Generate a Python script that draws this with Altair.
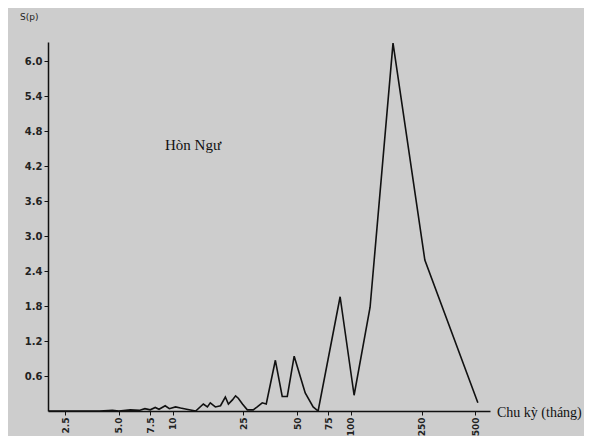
import altair as alt
import pandas as pd

# Period (months) and spectral density S(p)
periods = [2.0, 3.9, 4.6, 5.0, 5.8, 6.5, 7.0, 7.5, 8.0, 8.4, 9.1, 9.6, 10.4, 11.1, 12.0,
           13.5, 14.9, 15.7, 16.3, 17.4, 18.6, 19.8, 20.6, 21.7, 22.6, 23.4, 24.7,
           26.3, 28.4, 29.9, 31.9, 33.6, 37.8, 41.3, 44.1, 48.2, 55.6, 61.6, 65.7,
           87.3, 104.6, 128.6, 173.0, 261.0, 518.0]
values = [0.0, 0.0, 0.01, 0.0, 0.02, 0.01, 0.04, 0.02, 0.06, 0.03, 0.09, 0.04, 0.07, 0.05, 0.03,
          0.0, 0.12, 0.07, 0.14, 0.07, 0.09, 0.24, 0.12, 0.19, 0.26, 0.22, 0.12,
          0.02, 0.02, 0.07, 0.14, 0.12, 0.87, 0.25, 0.25, 0.94, 0.31, 0.07, 0.0,
          1.96, 0.27, 1.78, 6.31, 2.59, 0.14]
x_ticks = [2.5, 5, 7.5, 10, 25, 50, 75, 100, 250, 500]
y_ticks = [0.6, 1.2, 1.8, 2.4, 3.0, 3.6, 4.2, 4.8, 5.4, 6.0]

df = pd.DataFrame({"period": periods, "s": values})

line = alt.Chart(df).mark_line(color="#111111", strokeWidth=1.6, clip=True).encode(
    x=alt.X("period:Q",
            scale=alt.Scale(type="log", domain=[2, 606], nice=False),
            axis=alt.Axis(values=x_ticks, title=None, labelAngle=270,
                          labelExpr="datum.value < 10 ? format(datum.value, '.1f') : format(datum.value, 'd')",
                          labelFont="DejaVu Sans", labelFontSize=9, labelFontWeight="bold",
                          labelColor="#222222",
                          tickSize=4, tickColor="#111111", domainColor="#111111",
                          domainWidth=1.5, grid=False, labelPadding=2)),
    y=alt.Y("s:Q",
            scale=alt.Scale(domain=[0, 6.33], nice=False, zero=True),
            axis=alt.Axis(values=y_ticks, title=None, format=".1f",
                          labelFont="DejaVu Sans", labelFontSize=10, labelFontWeight="bold",
                          labelColor="#222222",
                          tickSize=4, tickColor="#111111", domainColor="#111111",
                          domainWidth=1.5, grid=False, labelPadding=2)),
)

title_txt = alt.Chart(pd.DataFrame({"t": ["Hòn Ngư"]})).mark_text(
    font="Liberation Serif", fontSize=15, align="left", baseline="middle", color="#111111"
).encode(x=alt.value(117), y=alt.value(103), text="t:N")

sp_txt = alt.Chart(pd.DataFrame({"t": ["S(p)"]})).mark_text(
    font="DejaVu Sans", fontSize=9, align="left", baseline="middle", color="#222222"
).encode(x=alt.value(-28), y=alt.value(-25), text="t:N")

xlab_txt = alt.Chart(pd.DataFrame({"t": ["Chu kỳ (tháng)"]})).mark_text(
    font="Liberation Serif", fontSize=14, align="left", baseline="middle", color="#111111"
).encode(x=alt.value(449), y=alt.value(371), text="t:N")

chart = alt.layer(line, title_txt, sp_txt, xlab_txt).properties(
    width=442, height=369,
    autosize=alt.AutoSizeParams(type="none"),
    padding={"left": 40, "top": 34, "right": 94, "bottom": 25},
    background="#cdcdcd",
).configure_view(stroke=None)

chart.save("out.html", embed_options={"renderer": "svg", "actions": False})
